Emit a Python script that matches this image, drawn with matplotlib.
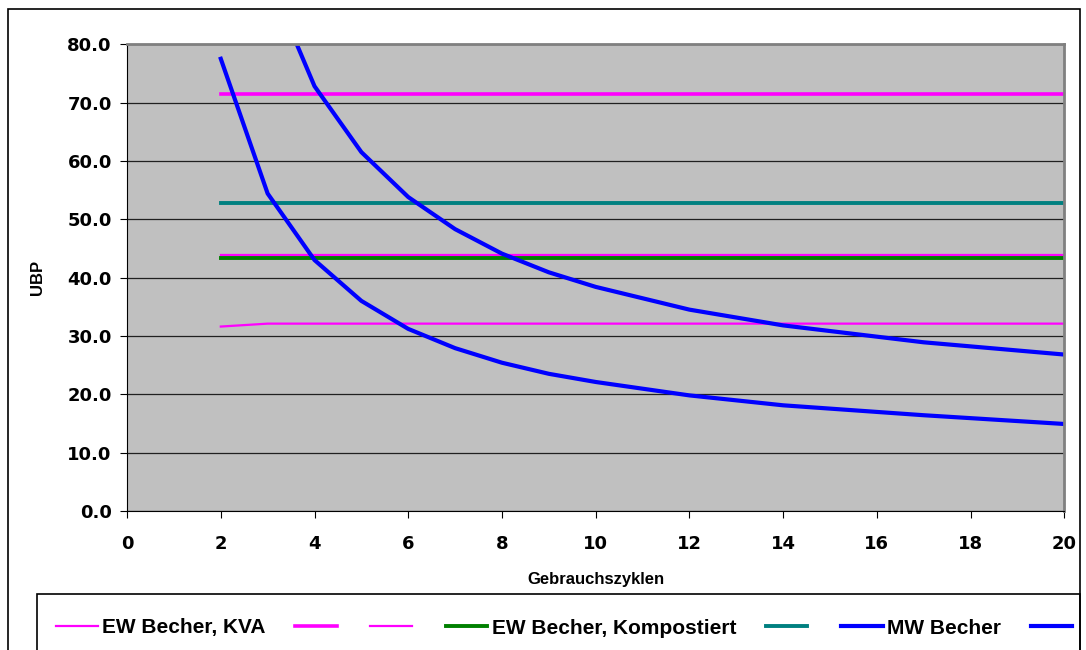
import matplotlib.pyplot as plt
from matplotlib.patches import Rectangle

plt.rcParams['font.family'] = ['Liberation Sans', 'DejaVu Sans']
plt.rcParams['font.weight'] = 'bold'

zyklen = [2, 3, 4, 5, 6, 7, 8, 9, 10, 12, 14, 17, 20]
ew_kva = [31.6, 32.1, 32.1, 32.1, 32.1, 32.1, 32.1, 32.1, 32.1, 32.1, 32.1, 32.1, 32.1]
ew_kva_hi = [71.5] * 13
ew_kva_mid = [43.8] * 13
ew_kompost = [43.4] * 13
ew_kompost_hi = [52.7] * 13
mw_becher = [77.5, 54.4, 43.0, 36.0, 31.2, 27.9, 25.4, 23.5, 22.1, 19.8, 18.1, 16.4, 14.9]
mw_becher_hi = [130.0, 91.8, 72.8, 61.5, 53.8, 48.3, 44.1, 40.9, 38.4, 34.5, 31.8, 28.9, 26.8]
legend_labels = ['EW Becher, KVA', '', '', 'EW Becher, Kompostiert', '', 'MW Becher', '']

fig = plt.figure(figsize=(10.86, 6.5), dpi=100)
ax = fig.add_axes([0.117, 0.214, 0.863, 0.718])
ax.set_facecolor('#C0C0C0')

l1, = ax.plot(zyklen, ew_kva, color='#FF00FF', lw=1.6)
l2, = ax.plot(zyklen, ew_kva_hi, color='#FF00FF', lw=2.6)
l3, = ax.plot(zyklen, ew_kva_mid, color='#FF00FF', lw=1.6)
l4, = ax.plot(zyklen, ew_kompost, color='#008000', lw=2.8)
l5, = ax.plot(zyklen, ew_kompost_hi, color='#008080', lw=2.8)
l6, = ax.plot(zyklen, mw_becher, color='#0000FF', lw=3.0)
l7, = ax.plot(zyklen, mw_becher_hi, color='#0000FF', lw=3.0)

ax.set_xlim(0, 20)
ax.set_ylim(0, 80)
ax.set_xticks(range(0, 21, 2))
ax.set_yticks(range(0, 81, 10))
ax.set_yticklabels([f'{v:.1f}' for v in range(0, 81, 10)])
ax.tick_params(length=5, color='black')
ax.tick_params(axis='x', pad=12)
ax.tick_params(axis='y', pad=6)
for t in ax.get_xticklabels() + ax.get_yticklabels():
    t.set_fontfamily('DejaVu Sans')
    t.set_fontsize(13)
    t.set_fontweight('bold')
ax.yaxis.grid(True, color='#202020', lw=0.9)
ax.set_axisbelow(True)
for s in ['top', 'right']:
    ax.spines[s].set_color('#808080')
    ax.spines[s].set_linewidth(2)
ax.spines['left'].set_color('black')
ax.spines['bottom'].set_color('black')

ax.set_ylabel('UBP', fontsize=12, fontweight='bold', labelpad=16)
ax.set_xlabel('Gebrauchszyklen', fontsize=12, fontweight='bold', labelpad=14)

# outer chart border and legend frame
fig.patches.append(Rectangle((8 / 1086, -0.1), 1072 / 1086, 1.1 - 9 / 650,
                             transform=fig.transFigure, fill=False,
                             ec='black', lw=1.2))
fig.patches.append(Rectangle((37 / 1086, -0.1), 1043 / 1086, 0.1 + 56 / 650,
                             transform=fig.transFigure, fill=False,
                             ec='black', lw=1.2))

fig.legend([l1, l2, l3, l4, l5, l6, l7], legend_labels, loc='center left',
           bbox_to_anchor=(56 / 1086, 22 / 650), ncol=7, frameon=False,
           handlelength=2.0, handletextpad=0.2, borderpad=0, borderaxespad=0,
           columnspacing=1.42, prop={'weight': 'bold', 'size': 15})

fig.savefig('out.png', dpi=100)
